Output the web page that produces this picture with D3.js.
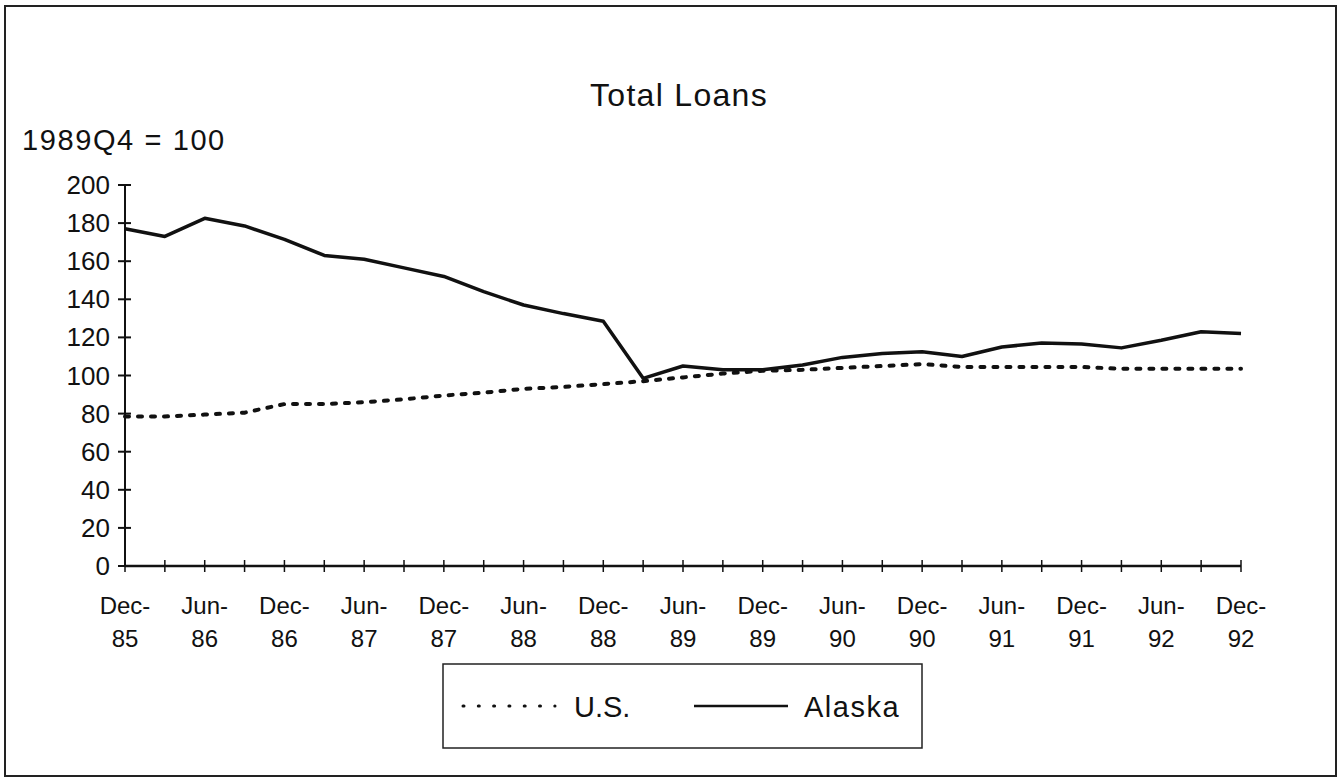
<!DOCTYPE html>
<html lang="en">
<head>
    <title>Total Loans</title>
    <script src="https://d3js.org/d3.v7.min.js"></script>
    <style>
      body { margin: 0; background: #fff; }
      text { font-family: "Liberation Sans", Arial, sans-serif; fill: #111; }
    </style>
</head>
<body>
    <svg width=1342 height=780></svg>
</body>
    <script>
    // quarterly observations, Dec-85 .. Dec-92
    const quarters = ["Dec-85","Mar-86","Jun-86","Sep-86","Dec-86","Mar-87","Jun-87","Sep-87",
      "Dec-87","Mar-88","Jun-88","Sep-88","Dec-88","Mar-89","Jun-89","Sep-89","Dec-89",
      "Mar-90","Jun-90","Sep-90","Dec-90","Mar-91","Jun-91","Sep-91","Dec-91","Mar-92",
      "Jun-92","Sep-92","Dec-92"]
    const alaska = [177,173,182.5,178.5,171.5,163,161,156.5,152,144,137,132.5,128.5,
      98.5,105,103,103,105.5,109.5,111.5,112.5,110,115,117,116.5,114.5,118.5,123,122]
    const us = [78.5,78.5,79.5,80.5,85,85,86,87.5,89.5,91,93,94,95.5,
      97,99,101,102.5,103,104,105,106,104.5,104.5,104.5,104.5,103.5,103.5,103.5,103.5]
    const yTicks = [0,20,40,60,80,100,120,140,160,180,200]
    const xLabels = quarters.filter((d, i) => i % 2 == 0)

    const svg = d3.select("svg")

    // frame
    svg.append("rect")
      .attr("x", 5).attr("y", 6).attr("width", 1331).attr("height", 770)
      .attr("fill", "none").attr("stroke", "#222").attr("stroke-width", 2)

    const x = d3.scalePoint().domain(quarters).range([125, 1241])
    const y = d3.scaleLinear().domain([0, 200]).range([566, 185])

    svg.append("text")
      .attr("x", 679).attr("y", 106)
      .attr("text-anchor", "middle")
      .style("font-size", "32px").style("letter-spacing", "1.3px")
      .text("Total Loans")

    svg.append("text")
      .attr("x", 22).attr("y", 150)
      .style("font-size", "29px").style("letter-spacing", "1.6px")
      .text("1989Q4 = 100")

    // y axis
    const yAxis = svg.append("g")
    yAxis.append("line")
      .attr("x1", x(quarters[0])).attr("x2", x(quarters[0]))
      .attr("y1", y(0)).attr("y2", y(200))
      .attr("stroke", "#111").attr("stroke-width", 2)
    yAxis.selectAll(".yt").data(yTicks).join("line")
      .attr("x1", x(quarters[0]) - 7).attr("x2", x(quarters[0]) + 6)
      .attr("y1", d => y(d)).attr("y2", d => y(d))
      .attr("stroke", "#111").attr("stroke-width", 2)
    yAxis.selectAll("text").data(yTicks).join("text")
      .attr("x", 110).attr("y", d => y(d) + 9)
      .attr("text-anchor", "end")
      .style("font-size", "26px")
      .text(d => d)

    // x axis
    const xAxis = svg.append("g")
    xAxis.append("line")
      .attr("x1", x.range()[0]).attr("x2", x.range()[1])
      .attr("y1", y(0)).attr("y2", y(0))
      .attr("stroke", "#111").attr("stroke-width", 2.5)
    xAxis.selectAll("line.xt").data(quarters).join("line")
      .attr("class", "xt")
      .attr("x1", d => x(d)).attr("x2", d => x(d))
      .attr("y1", y(0) - 6).attr("y2", y(0) + 6)
      .attr("stroke", "#111").attr("stroke-width", 1.5)
    const lab = xAxis.selectAll("text").data(xLabels).join("text")
      .attr("text-anchor", "middle")
      .style("font-size", "24px")
    lab.append("tspan")
      .attr("x", d => x(d)).attr("y", 614)
      .text(d => d.split("-")[0] + "-")
    lab.append("tspan")
      .attr("x", d => x(d)).attr("y", 647)
      .text(d => d.split("-")[1])

    // lines
    const line = d3.line().x((d, i) => x(quarters[i])).y(d => y(d))
    svg.append("path").datum(us)
      .attr("d", line)
      .attr("fill", "none").attr("stroke", "#111")
      .attr("stroke-width", 4).attr("stroke-linecap", "round")
      .attr("stroke-dasharray", "4,9")
    svg.append("path").datum(alaska)
      .attr("d", line)
      .attr("fill", "none").attr("stroke", "#111")
      .attr("stroke-width", 3.5).attr("stroke-linejoin", "round")

    // legend
    const leg = svg.append("g")
    leg.append("rect")
      .attr("x", 443).attr("y", 664).attr("width", 479).attr("height", 84)
      .attr("fill", "none").attr("stroke", "#222").attr("stroke-width", 1.5)
    leg.append("line")
      .attr("x1", 463).attr("x2", 555).attr("y1", 706).attr("y2", 706)
      .attr("stroke", "#111").attr("stroke-width", 3)
      .attr("stroke-linecap", "round").attr("stroke-dasharray", "1,14.3")
    leg.append("text")
      .attr("x", 574).attr("y", 717)
      .style("font-size", "29px").text("U.S.")
    leg.append("line")
      .attr("x1", 694).attr("x2", 788).attr("y1", 706).attr("y2", 706)
      .attr("stroke", "#111").attr("stroke-width", 2.5)
    leg.append("text")
      .attr("x", 804).attr("y", 717)
      .style("font-size", "29px").style("letter-spacing", "1.5px").text("Alaska")
    </script>
</html>
